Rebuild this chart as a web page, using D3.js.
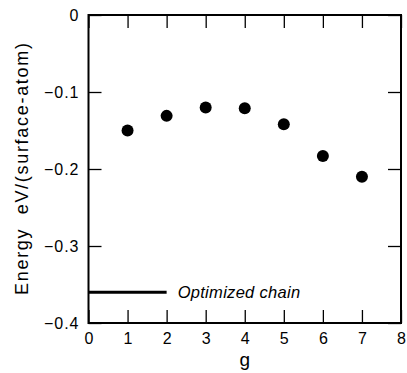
<!DOCTYPE html>
<html>
<head>
<meta charset="utf-8">
<script src="https://cdn.jsdelivr.net/npm/d3@7"></script>
<style>
  body { margin: 0; background: #fff; }
  text { font-family: "Liberation Sans", Arial, sans-serif; fill: #000; }
</style>
</head>
<body>
<div id="chart"></div>
<script>
// data
var gValues = [1, 2, 3, 4, 5, 6, 7];
var energy = [-0.150, -0.131, -0.120, -0.121, -0.142, -0.183, -0.210];
var chainEnergy = -0.36;
var chainRange = [0, 2];
var xTicks = [0, 1, 2, 3, 4, 5, 6, 7, 8];
var yTicks = [0, -0.1, -0.2, -0.3, -0.4];

var W = 407, H = 373;
var m = { left: 88.5, right: 6, top: 15, bottom: 50 };

var svg = d3.select("#chart").append("svg")
    .attr("width", W)
    .attr("height", H);

var x = d3.scaleLinear().domain([0, 8]).range([m.left, W - m.right]);
var y = d3.scaleLinear().domain([-0.4, 0]).range([H - m.bottom, m.top]);

var tickLen = 13;

// inward ticks on all four sides
var axes = [
    d3.axisBottom(x).tickValues(xTicks).tickSizeInner(-tickLen).tickSizeOuter(0)
        .tickFormat(function(d) { return d; }),
    d3.axisTop(x).tickValues(xTicks).tickSizeInner(-tickLen).tickSizeOuter(0).tickFormat(""),
    d3.axisLeft(y).tickValues(yTicks).tickSizeInner(-tickLen).tickSizeOuter(0)
        .tickFormat(function(d) { return d === 0 ? "0" : "\u2212" + Math.abs(d).toFixed(1); }),
    d3.axisRight(y).tickValues(yTicks).tickSizeInner(-tickLen).tickSizeOuter(0).tickFormat("")
];
var pos = [
    "translate(0," + y(-0.4) + ")",
    "translate(0," + y(0) + ")",
    "translate(" + x(0) + ",0)",
    "translate(" + x(8) + ",0)"
];

axes.forEach(function(a, i) {
    var g = svg.append("g").attr("transform", pos[i]).call(a);
    g.select(".domain").remove();
    g.selectAll("line").attr("stroke", "#000").attr("stroke-width", 1.3);
    g.selectAll("text").style("font-size", "16px").attr("fill", "#000");
    if (i === 0) g.selectAll("text").attr("dy", "0").attr("y", 21);
    if (i === 2) g.selectAll("text").attr("dy", "0.36em").attr("x", -9)
        .style("letter-spacing", "1px");
});

svg.append("rect")
    .attr("x", x(0)).attr("y", y(0))
    .attr("width", x(8) - x(0)).attr("height", y(-0.4) - y(0))
    .attr("fill", "none").attr("stroke", "#000").attr("stroke-width", 2);

// optimized chain reference line
svg.append("line")
    .attr("x1", x(chainRange[0])).attr("x2", x(chainRange[1]))
    .attr("y1", y(chainEnergy)).attr("y2", y(chainEnergy))
    .attr("stroke", "#000").attr("stroke-width", 3);

svg.append("text")
    .attr("x", x(chainRange[1]) + 11)
    .attr("y", y(chainEnergy) + 6)
    .style("font-size", "16.5px")
    .style("font-style", "italic")
    .style("letter-spacing", "0.3px")
    .text("Optimized chain");

svg.selectAll(".dot")
    .data(gValues)
    .enter().append("circle")
    .attr("class", "dot")
    .attr("cx", function(d) { return x(d); })
    .attr("cy", function(d, i) { return y(energy[i]); })
    .attr("r", 6)
    .attr("fill", "#000");

svg.append("text")
    .attr("x", (x(0) + x(8)) / 2)
    .attr("y", 366)
    .attr("text-anchor", "middle")
    .style("font-size", "19px")
    .text("g");

svg.append("text")
    .attr("transform", "translate(28,169) rotate(-90)")
    .attr("text-anchor", "middle")
    .attr("textLength", 252)
    .attr("lengthAdjust", "spacing")
    .style("font-size", "18px")
    .style("white-space", "pre")
    .text("Energy  eV/(surface-atom)");
</script>
</body>
</html>
